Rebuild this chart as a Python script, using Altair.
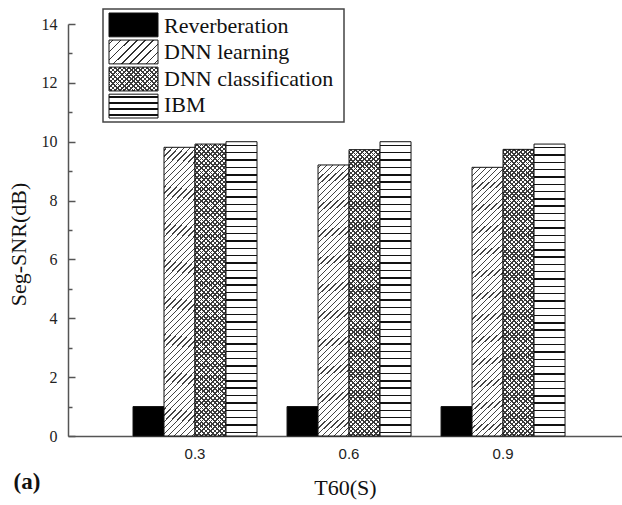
import math
import altair as alt
import pandas as pd

# ---------------- data ----------------
t60 = ["0.3", "0.6", "0.9"]
series = ["Reverberation", "DNN learning", "DNN classification", "IBM"]
reverberation = [1.0, 1.0, 1.0]
dnn_learning = [9.81, 9.21, 9.13]
dnn_classification = [9.92, 9.73, 9.74]
ibm = [10.0, 10.0, 9.92]
panel_label = ["(a)"]

W, H = 554, 412
SERIF = "Liberation Serif"
SANS = "Liberation Sans"
INK = "#111111"
AXIS = "#555555"
CLEAR = "rgba(255,255,255,0)"


def _stops(n, frac, color, bg):
    stops = [{"offset": 0, "color": bg}]
    for i in range(n):
        c = (i + 0.5) / n
        s = max(0.0, round(c - frac / 2, 5))
        e = min(1.0, round(c + frac / 2, 5))
        stops += [
            {"offset": s, "color": bg},
            {"offset": s, "color": color},
            {"offset": e, "color": color},
            {"offset": e, "color": bg},
        ]
    stops.append({"offset": 1, "color": bg})
    return stops


def hstripes(h, spacing, lw, color, bg):
    n = max(1, round(h / spacing))
    return {"gradient": "linear", "x1": 0, "y1": 0, "x2": 0, "y2": 1,
            "stops": _stops(n, lw / h, color, bg)}


def diag(w, h, spacing_x, lw, color, bg, slash=True):
    t = (1 / h + 1 / w) / (1 / h ** 2 + 1 / w ** 2)
    d = (w + h) / math.sqrt(2)
    n = max(1, round(d / (spacing_x / math.sqrt(2))))
    stops = _stops(n, lw / d, color, bg)
    if slash:
        x1, y1, x2, y2 = 0, 0, t / h, t / w
    else:
        x1, y1, x2, y2 = 0, 1, t / h, 1 - t / w
    return {"gradient": "linear", "x1": round(x1, 5), "y1": round(y1, 5),
            "x2": round(x2, 5), "y2": round(y2, 5), "stops": stops}


# bar-sized patterns
BW, BH = 31, 280
fill_learning = diag(BW, BH, 6.0, 0.9, "#444444", "white", True)
fill_class_a = diag(BW, BH, 4.5, 1.2, "#3a3a3a", "white", True)
fill_class_b = diag(BW, BH, 4.5, 1.2, "#3a3a3a", CLEAR, False)
fill_ibm = hstripes(294, 7.35, 1.4, "#111111", "white")

# legend-sized patterns
LW, LH = 49, 24
leg_learning = diag(LW, LH, 8.0, 1.0, "#333333", "white", True)
leg_class_a = diag(LW, LH, 4.5, 1.2, "#3a3a3a", "white", True)
leg_class_b = diag(LW, LH, 4.5, 1.2, "#3a3a3a", CLEAR, False)
leg_ibm = hstripes(LH, 6.0, 1.4, "#111111", "white")

x_scale = alt.Scale(domain=t60, paddingInner=0.195, paddingOuter=0.396, align=0.533)
off_scale = alt.Scale(domain=series, paddingInner=0, paddingOuter=0)
y_scale = alt.Scale(domain=[0, 14], nice=False, zero=True)


def frame(values, name):
    return pd.DataFrame({"t60": t60, "series": [name] * len(t60), "value": values})


def bars(values, name, fill, stroke=True, x_axis=None, y_axis=None):
    mark = dict(fill=fill)
    if stroke:
        mark.update(stroke=INK, strokeWidth=1)
    return alt.Chart(frame(values, name)).mark_bar(**mark).encode(
        x=alt.X("t60:N", scale=x_scale, axis=x_axis, title="T60(S)"),
        xOffset=alt.XOffset("series:N", scale=off_scale),
        y=alt.Y("value:Q", scale=y_scale, axis=y_axis, title="Seg-SNR(dB)"),
    )


x_axis = alt.Axis(
    labelAngle=0, labelFont=SANS, labelFontSize=15, labelColor="#222222",
    labelPadding=10, ticks=False, tickSize=0, domainColor=AXIS, domainWidth=1.5,
    titleFont=SERIF, titleFontSize=22, titleFontWeight="normal", titleColor=INK,
    titleY=51, titleBaseline="middle",
)
y_axis_main = alt.Axis(
    values=list(range(0, 15, 2)), labelFont=SERIF, labelFontSize=16,
    labelColor="#222222", labelPadding=11, ticks=False, tickSize=0,
    domainColor=AXIS, domainWidth=1.5, grid=False,
    titleFont=SERIF, titleFontSize=22, titleFontWeight="normal", titleColor=INK,
    titleX=-50, titleY=220, titleBaseline="middle",
)
y_axis_major = alt.Axis(
    orient="right", offset=-W, values=list(range(0, 15, 2)), labels=False,
    domain=False, grid=False, tickSize=7, tickColor=AXIS, tickWidth=1.5, title="",
)
y_axis_minor = alt.Axis(
    orient="right", offset=-W, values=list(range(1, 14, 2)), labels=False,
    domain=False, grid=False, tickSize=4, tickColor=AXIS, tickWidth=1.5, title="",
)

layer_rev = bars(reverberation, series[0], "black", x_axis=x_axis)
layer_learn = bars(dnn_learning, series[1], fill_learning, y_axis=y_axis_main)
layer_class_a = bars(dnn_classification, series[2], fill_class_a, stroke=False, y_axis=y_axis_minor)
layer_class_b = bars(dnn_classification, series[2], fill_class_b)
layer_ibm = bars(ibm, series[3], fill_ibm, y_axis=y_axis_major)

# ---------------- legend ----------------
leg_y = alt.Scale(domain=series, range=[-11, 94], paddingInner=0.12, paddingOuter=0)

legend_box = alt.Chart(pd.DataFrame({"k": [0]})).mark_rect(
    fill="white", stroke="#444444", strokeWidth=1.5
).encode(x=alt.value(35), x2=alt.value(276), y=alt.value(-15), y2=alt.value(98))


def leg_symbol(name, fill, stroke=True):
    mark = dict(fill=fill)
    if stroke:
        mark.update(stroke=INK, strokeWidth=1)
    return alt.Chart(pd.DataFrame({"series": [name]})).mark_bar(**mark).encode(
        x=alt.value(41), x2=alt.value(90),
        y=alt.Y("series:N", scale=leg_y, axis=None),
    )


leg_rev = leg_symbol(series[0], "black")
leg_learn = leg_symbol(series[1], leg_learning)
leg_ca = leg_symbol(series[2], leg_class_a, stroke=False)
leg_cb = leg_symbol(series[2], leg_class_b)
leg_ibm_l = leg_symbol(series[3], leg_ibm)

leg_text = alt.Chart(pd.DataFrame({"series": series})).mark_text(
    align="left", baseline="middle", font=SERIF, fontSize=22, color=INK
).encode(
    x=alt.value(96),
    y=alt.Y("series:N", scale=leg_y, axis=None),
    text="series:N",
)

label_a = alt.Chart(pd.DataFrame({"lab": panel_label})).mark_text(
    font=SERIF, fontSize=23, fontWeight="bold", align="center", baseline="middle", color=INK
).encode(x=alt.value(-41), y=alt.value(458), text="lab:N")

chart = alt.layer(
    layer_rev, layer_learn, layer_class_a, layer_class_b, layer_ibm,
    legend_box, leg_rev, leg_learn, leg_ca, leg_cb, leg_ibm_l, leg_text, label_a,
).resolve_scale(
    x="independent", y="independent"
).properties(
    width=W, height=H,
    autosize=alt.AutoSizeParams(type="none"),
    padding={"left": 68, "top": 24, "right": 0, "bottom": 69},
    background="white",
).configure_view(stroke="transparent")

chart.save("out.html", embed_options={"renderer": "svg", "actions": False})
